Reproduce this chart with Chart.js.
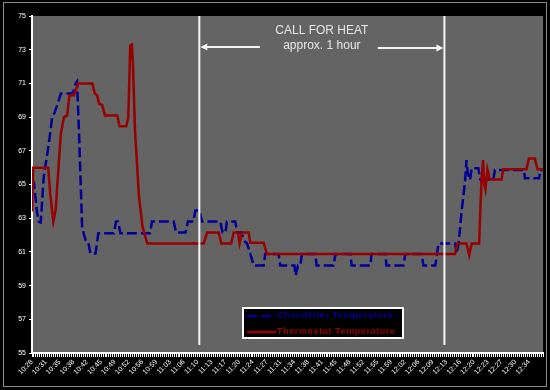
<!DOCTYPE html>
<html lang="en">
<head>
    <meta charset="UTF-8">
    <title>Chandelier vs Thermostat Temperature</title>
    <script src="https://cdn.jsdelivr.net/npm/chart.js"></script>
    <style>
        body {
            margin: 0;
            padding: 0;
            background-color: #000;
        }
        #tempChart {
            display: block;
        }
    </style>
</head>
<body>
    <canvas id="tempChart" width="550" height="390"></canvas>

    <script>
        // minutes after 10:28
        const startMinutes = 10 * 60 + 28;
        const labelStep = 3.5;
        const lastLabel = 126; // 12:34

        const chandTime = [0, 0.5, 1.3, 1.7, 2.2, 2.6, 3.0, 3.9, 4.7, 5.1, 5.6, 6.4, 7.3, 9.8, 10.5, 11.1, 11.4, 11.9, 12.3, 12.7,
            13.2, 13.6, 14.2, 14.8, 16.1, 16.8, 20.7, 21.3, 21.8, 22.4, 29.9, 30.4, 35.9, 36.5, 38.9, 39.5, 40.9, 41.4, 42.4, 43.1,
            47.7, 48.3, 49.0, 49.4, 51.5, 52.0, 53.0, 54.0, 54.5, 55.3, 56.2, 58.7, 59.1, 62.5, 62.9, 66.5, 66.8, 67.4, 68.0, 68.4,
            71.8, 72.1, 76.4, 76.9, 80.7, 81.0, 85.8, 86.0, 89.6, 89.8, 94.1, 94.6, 98.7, 99.2, 102.2, 103.0, 107.2, 107.6, 108.1, 108.5,
            108.8, 109.7, 110.1, 110.4, 111.0, 111.4, 113.1, 113.6, 116.9, 117.3, 124.7, 124.9, 128.5, 128.8, 129.5];
        const chandTemp = [65.3, 65.1, 63.3, 62.8, 62.75, 64.1, 65.5, 66.85, 68.2, 69.0, 69.2, 69.7, 70.4, 70.4, 70.5, 71.0, 71.1, 68.2, 65.3, 62.5,
            62.0, 61.7, 61.65, 60.9, 60.9, 62.1, 62.1, 62.8, 62.8, 62.1, 62.1, 62.8, 62.8, 62.15, 62.15, 62.8, 62.8, 63.45, 63.45, 62.8,
            62.8, 62.15, 62.15, 62.8, 62.8, 62.15, 62.15, 61.6, 61.5, 60.9, 60.2, 60.2, 60.88, 60.88, 60.2, 60.2, 59.6, 60.2, 60.2, 60.88,
            60.88, 60.2, 60.2, 60.88, 60.88, 60.2, 60.2, 60.88, 60.88, 60.2, 60.2, 60.88, 60.88, 60.2, 60.2, 61.5, 61.5, 60.9, 61.5, 62.5,
            63.3, 65.1, 66.45, 65.7, 65.27, 65.96, 65.96, 65.3, 65.3, 65.86, 65.86, 65.37, 65.37, 65.86, 65.86];

        const thermTime = [0, 0.3, 4.1, 4.6, 5.4, 6.0, 6.4, 7.3, 8.1, 8.9, 9.5, 10.6, 11.7, 15.3, 15.9, 16.5, 17.0, 17.8, 18.5, 21.6,
            22.2, 23.9, 24.4, 24.7, 24.9, 25.1, 25.3, 25.6, 26.1, 27.1, 28.0, 29.2, 43.5, 44.4, 47.3, 48.0, 50.5, 51.1, 52.2, 52.6,
            53.2, 54.9, 55.3, 58.7, 59.5, 107.2, 107.8, 110.1, 110.8, 111.4, 113.3, 113.9, 114.3, 114.6, 114.9, 115.4, 116.0, 119.0, 119.4, 125.3,
            125.9, 127.4, 128.1, 129.5];
        const thermTemp = [63.4, 66.0, 66.0, 64.5, 62.8, 63.5, 64.9, 68.0, 69.0, 69.1, 70.3, 70.3, 71.0, 71.0, 70.4, 70.3, 69.8, 69.7, 69.1, 69.1,
            68.45, 68.45, 69.0, 71.5, 73.3, 72.5, 73.4, 72.0, 68.2, 64.3, 62.5, 61.5, 61.5, 62.15, 62.15, 61.5, 61.5, 62.15, 62.15, 61.5,
            62.15, 62.15, 61.55, 61.55, 60.88, 60.88, 61.5, 61.5, 60.8, 61.5, 61.5, 65.3, 66.45, 65.0, 64.7, 65.9, 65.3, 65.3, 65.9, 65.9,
            66.55, 66.55, 65.9, 65.9];

        // call for heat window (minutes after 10:28)
        const heatStart = 42.4;
        const heatEnd = 104.5;
        const heatTitle = 'CALL FOR HEAT';
        const heatNote = 'approx. 1 hour';

        const seriesNames = ['Chandelier Temperature', 'Thermostat Temperature'];
        const seriesColors = ['#000099', '#990000'];

        function toPoints(times, temps) {
            return times.map((t, i) => ({ x: t, y: temps[i] }));
        }

        function fmtTime(v) {
            const m = Math.floor(startMinutes + v + 1e-6);
            return Math.floor(m / 60) + ':' + String(m % 60).padStart(2, '0');
        }

        const framePlugin = {
            id: 'frame',
            beforeDraw(chart) {
                const ctx = chart.ctx;
                const a = chart.chartArea;
                ctx.save();
                ctx.fillStyle = '#000';
                ctx.fillRect(0, 0, chart.width, chart.height);
                ctx.strokeStyle = '#8a8a8a';
                ctx.lineWidth = 1;
                ctx.strokeRect(3.5, 2.5, chart.width - 7, chart.height - 6);
                ctx.fillStyle = '#646464';
                ctx.fillRect(a.left, a.top, a.right - a.left, a.bottom - a.top);
                ctx.restore();
            }
        };

        const notePlugin = {
            id: 'notes',
            afterDatasetsDraw(chart) {
                const ctx = chart.ctx;
                const a = chart.chartArea;
                const xs = chart.scales.x;
                const x1 = xs.getPixelForValue(heatStart);
                const x2 = xs.getPixelForValue(heatEnd);
                ctx.save();

                // vertical markers
                ctx.strokeStyle = '#f4f4f4';
                ctx.lineWidth = 2;
                ctx.beginPath();
                ctx.moveTo(x1, a.top);
                ctx.lineTo(x1, a.bottom - 8);
                ctx.moveTo(x2, a.top);
                ctx.lineTo(x2, a.bottom - 8);
                ctx.stroke();

                // text
                const mid = (x1 + x2) / 2;
                ctx.fillStyle = '#e6e6e6';
                ctx.font = '12px Arial, "Liberation Sans", sans-serif';
                ctx.textAlign = 'center';
                ctx.textBaseline = 'middle';
                ctx.fillText(heatTitle, mid, a.top + 15);
                ctx.fillText(heatNote, mid, a.top + 30);

                // arrows
                const ay = a.top + 31;
                ctx.lineWidth = 2;
                ctx.beginPath();
                ctx.moveTo(x1 + 6, ay);
                ctx.lineTo(mid - 62, ay);
                ctx.moveTo(mid + 56, ay + 1);
                ctx.lineTo(x2 - 6, ay + 1);
                ctx.stroke();
                ctx.fillStyle = '#f4f4f4';
                ctx.beginPath();
                ctx.moveTo(x1 + 1, ay);
                ctx.lineTo(x1 + 8, ay - 3.5);
                ctx.lineTo(x1 + 8, ay + 3.5);
                ctx.closePath();
                ctx.fill();
                ctx.beginPath();
                ctx.moveTo(x2 - 1, ay + 1);
                ctx.lineTo(x2 - 8, ay - 2.5);
                ctx.lineTo(x2 - 8, ay + 4.5);
                ctx.closePath();
                ctx.fill();

                // legend box
                const lx = 243, ly = 308, lw = 160, lh = 30;
                ctx.fillStyle = '#000';
                ctx.fillRect(lx, ly, lw, lh);
                ctx.strokeStyle = '#ffffff';
                ctx.lineWidth = 2;
                ctx.strokeRect(lx, ly, lw, lh);

                ctx.font = 'bold 9px Arial, "Liberation Sans", sans-serif';
                ctx.textAlign = 'left';
                ctx.textBaseline = 'middle';
                chart.data.datasets.forEach((ds, i) => {
                    const y = ly + 8 + i * 16;
                    ctx.strokeStyle = ds.borderColor;
                    ctx.lineWidth = 2.5;
                    ctx.setLineDash(ds.borderDash || []);
                    ctx.beginPath();
                    ctx.moveTo(lx + 4, y);
                    ctx.lineTo(lx + 33, y);
                    ctx.stroke();
                    ctx.setLineDash([]);
                    ctx.fillStyle = ds.borderColor;
                    ctx.letterSpacing = '0.6px';
                    ctx.fillText(ds.label, lx + 34, y);
                });
                ctx.restore();
            }
        };

        new Chart(document.getElementById('tempChart'), {
            type: 'line',
            data: {
                datasets: [{
                    label: seriesNames[0],
                    data: toPoints(chandTime, chandTemp),
                    borderColor: seriesColors[0],
                    borderWidth: 2.5,
                    borderDash: [10, 4],
                    pointRadius: 0,
                    tension: 0,
                    order: 1
                }, {
                    label: seriesNames[1],
                    data: toPoints(thermTime, thermTemp),
                    borderColor: seriesColors[1],
                    borderWidth: 2.5,
                    pointRadius: 0,
                    tension: 0,
                    order: 0
                }]
            },
            options: {
                responsive: false,
                animation: false,
                devicePixelRatio: 1,
                layout: { padding: { top: 16, right: 5, left: 0, bottom: 0 } },
                plugins: {
                    legend: { display: false },
                    tooltip: { enabled: false }
                },
                scales: {
                    x: {
                        type: 'linear',
                        min: 0,
                        max: 129.5,
                        afterFit: (scale) => { scale.height = 37; },
                        border: { display: true, color: '#ffffff', width: 2 },
                        grid: {
                            drawOnChartArea: false,
                            color: '#ffffff',
                            tickLength: 4,
                            tickWidth: 1
                        },
                        ticks: {
                            stepSize: 0.5,
                            autoSkip: false,
                            minRotation: 45,
                            maxRotation: 45,
                            padding: 1,
                            color: '#ffffff',
                            font: { family: 'Arial, "Liberation Sans", sans-serif', size: 7 },
                            callback: function (value) {
                                const k = value / labelStep;
                                if (value > lastLabel + 0.01) return '';
                                return Math.abs(k - Math.round(k)) < 0.01 ? fmtTime(value) : '';
                            }
                        }
                    },
                    y: {
                        min: 55,
                        max: 75,
                        afterFit: (scale) => { scale.width = 32; },
                        border: { display: true, color: '#ffffff', width: 2 },
                        grid: {
                            drawOnChartArea: false,
                            color: '#ffffff',
                            tickLength: 3
                        },
                        ticks: {
                            stepSize: 2,
                            padding: 3,
                            color: '#ffffff',
                            font: { family: 'Arial, "Liberation Sans", sans-serif', size: 7 }
                        }
                    }
                }
            },
            plugins: [framePlugin, notePlugin]
        });
    </script>
</body>
</html>
